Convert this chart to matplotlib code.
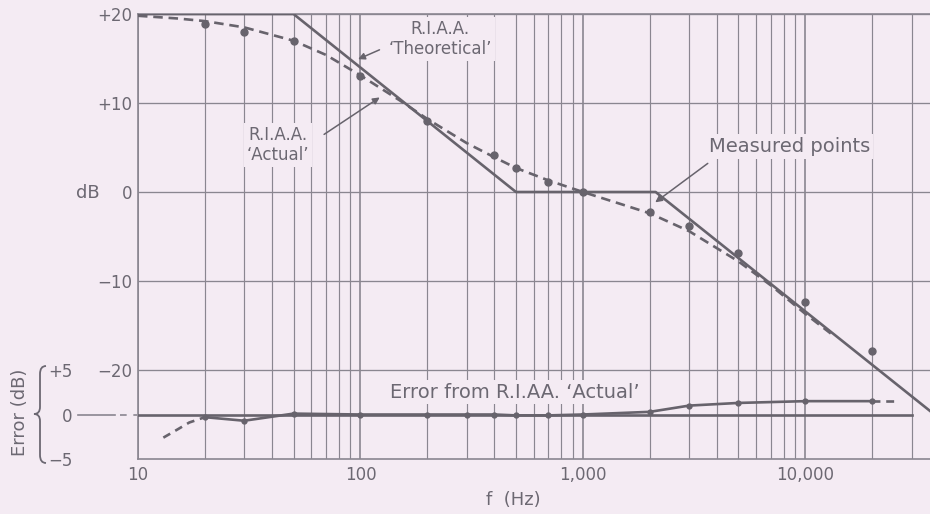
import matplotlib
matplotlib.use("Agg")
import matplotlib.pyplot as plt
import matplotlib.ticker as mticker
import matplotlib.transforms as mtransforms
from matplotlib.path import Path
from matplotlib.patches import PathPatch

# R.I.A.A. 'Theoretical' (straight-line asymptotes)
theory_f = [10, 50, 500, 2122, 36300]
theory_db = [20, 20, 0, 0, -24.6]

# R.I.A.A. 'Actual' (dashed)
actual_f = [10, 15, 20, 30, 50, 70, 100, 150, 200, 300, 400, 500, 700, 1000,
            1500, 2000, 3000, 5000, 7000, 10000, 13000]
actual_db = [19.8, 19.5, 19.2, 18.5, 17.0, 15.4, 13.1, 10.3, 8.2, 5.5, 3.9, 2.7,
             1.3, 0.0, -1.4, -2.4, -4.4, -7.8, -10.5, -13.7, -15.9]

# measured points
meas_f = [20, 30, 50, 100, 200, 400, 500, 700, 1000, 2000, 3000, 5000, 10000, 20000]
meas_db = [18.9, 18.0, 17.0, 13.0, 8.0, 4.2, 2.7, 1.1, 0.0, -2.2, -3.8, -6.8, -12.4, -17.9]

# error from R.I.A.A. 'Actual'
err_f = [20, 30, 50, 100, 200, 300, 400, 500, 700, 1000, 2000, 3000, 5000, 10000, 20000]
err_db = [-0.3, -0.7, 0.1, 0.0, 0.0, 0.0, 0.0, -0.1, -0.1, 0.0, 0.3, 1.0, 1.3, 1.5, 1.5]
err_low_f = [13, 15, 17, 20]
err_low_db = [-2.6, -1.7, -0.9, -0.3]
err_high_f = [20000, 26000]
err_high_db = [1.5, 1.5]
zero_f = [10, 30000]
zero_db = [0, 0]

bg = "#f4ebf3"
ink = "#67636c"
grid_c = "#8a8690"
txt = "#6c6872"
W, H = 930, 514

plt.rcParams["font.family"] = ["DejaVu Sans"]

fig = plt.figure(figsize=(W / 100, H / 100), dpi=100, facecolor=bg)
ax = fig.add_axes([138 / W, 1 - 459 / H, 792 / W, 445 / H])
ax.set_facecolor(bg)
ax.set_xscale("log")
ax.set_xlim(10, 36300)
ax.set_ylim(-30, 20)

ax.xaxis.set_major_locator(mticker.FixedLocator([10, 100, 1000, 10000]))
ax.xaxis.set_minor_locator(mticker.LogLocator(base=10, subs=range(2, 10), numticks=20))
ax.xaxis.set_minor_formatter(mticker.NullFormatter())
ax.set_xticks([10, 100, 1000, 10000], ["10", "100", "1,000", "10,000"])
ax.set_yticks([-20, -10, 0, 10, 20], ["\u221220", "\u221210", "0", "+10", "+20"])
ax.tick_params(which="both", length=0, colors=txt, labelsize=12)
ax.tick_params(axis="y", pad=4)
ax.tick_params(axis="x", pad=5)

ax.grid(True, which="major", axis="x", color=grid_c, lw=1.2)
ax.grid(True, which="minor", axis="x", color=grid_c, lw=0.85)
ax.grid(True, which="major", axis="y", color=grid_c, lw=0.95)
ax.set_axisbelow(True)
for s in ["left", "bottom", "top"]:
    ax.spines[s].set_color(grid_c)
    ax.spines[s].set_linewidth(1.2)
ax.spines["right"].set_visible(False)

# curves
ax.plot(theory_f, theory_db, color=ink, lw=1.9, zorder=4)
ax.plot(actual_f, actual_db, color=ink, lw=1.9, dashes=(3.6, 2.2), zorder=4)
ax.plot(meas_f, meas_db, "o", color=ink, ms=5, zorder=5)

# error axis: 0 error sits at -25 dB on the main scale
ax2 = ax.twinx()
ax2.set_ylim(-5, 45)
ax2.patch.set_visible(False)
for s in ax2.spines.values():
    s.set_visible(False)
ax2.yaxis.set_ticks_position("left")
ax2.set_yticks([-5, 0, 5], ["\u22125", "0", "+5"])
ax2.tick_params(axis="y", length=0, pad=47, colors=txt, labelsize=12)
ax2.plot(zero_f, zero_db, color=ink, lw=1.9, zorder=4)
ax2.plot(err_f, err_db, "o-", color=ink, lw=1.9, ms=3.5, zorder=5)
ax2.plot(err_low_f, err_low_db, color=ink, lw=1.9, dashes=(3, 2.2), zorder=4)
ax2.plot(err_high_f, err_high_db, color=ink, lw=1.9, dashes=(3, 2.2), zorder=4)

# "0 ——- -" leader to the error zero line
blend = mtransforms.blended_transform_factory(ax2.transAxes, ax2.transData)
ax2.plot([-60 / 792, -23 / 792], [0, 0], color=grid_c, lw=1.2, transform=blend, clip_on=False)
ax2.plot([-18 / 792, -1 / 792], [0, 0], color=grid_c, lw=1.2, dashes=(4, 4),
         transform=blend, clip_on=False)

# labels
box = dict(facecolor=bg, edgecolor="none", pad=2)
ax.text(228, 17.2, "R.I.A.A.\n\u2018Theoretical\u2019", ha="center", va="center",
        fontsize=12, color=txt, bbox=box, zorder=6, linespacing=1.15)
ax.annotate("", xy=(95, 14.8), xytext=(125, 16.1),
            arrowprops=dict(arrowstyle="-|>", color=ink, lw=1.1, mutation_scale=10), zorder=6)
ax.text(42.6, 5.3, "R.I.A.A.\n\u2018Actual\u2019", ha="center", va="center",
        fontsize=12, color=txt, bbox=box, zorder=6, linespacing=1.15)
ax.annotate("", xy=(125, 10.8), xytext=(67, 6.3),
            arrowprops=dict(arrowstyle="-|>", color=ink, lw=1.1, mutation_scale=10), zorder=6)
ax.text(8485, 5.1, "Measured points", ha="center", va="center",
        fontsize=14, color=txt, bbox=box, zorder=6)
ax.annotate("", xy=(2064, -1.35), xytext=(3724, 3.4),
            arrowprops=dict(arrowstyle="-|>", color=ink, lw=1.1, mutation_scale=10), zorder=6)
ax.text(494, -22.5, "Error from R.I.AA. \u2018Actual\u2019", ha="center", va="center",
        fontsize=14, color=txt, bbox=box, zorder=6)

fig.text(100 / W, 1 - 193 / H, "dB", ha="right", va="center", fontsize=13, color=txt)
fig.text(513 / W, 1 - 500 / H, "f  (Hz)", ha="center", va="center", fontsize=13, color=txt)
fig.text(20 / W, 1 - 412 / H, "Error (dB)", ha="center", va="center", rotation=90,
         fontsize=13, color=txt)

# brace for the error scale
def px(x, y):
    return (x / W, 1 - y / H)

verts = [px(46, 366), px(40, 366), px(40, 374), px(40, 407), px(40, 414), px(34, 414),
         px(40, 414), px(40, 421), px(40, 455), px(40, 463), px(46, 463)]
codes = [Path.MOVETO, Path.CURVE3, Path.CURVE3, Path.LINETO, Path.CURVE3, Path.CURVE3,
         Path.CURVE3, Path.CURVE3, Path.LINETO, Path.CURVE3, Path.CURVE3]
fig.add_artist(PathPatch(Path(verts, codes), transform=fig.transFigure,
                         facecolor="none", edgecolor=txt, lw=1.3))

fig.savefig("out.png", dpi=100, facecolor=bg)
